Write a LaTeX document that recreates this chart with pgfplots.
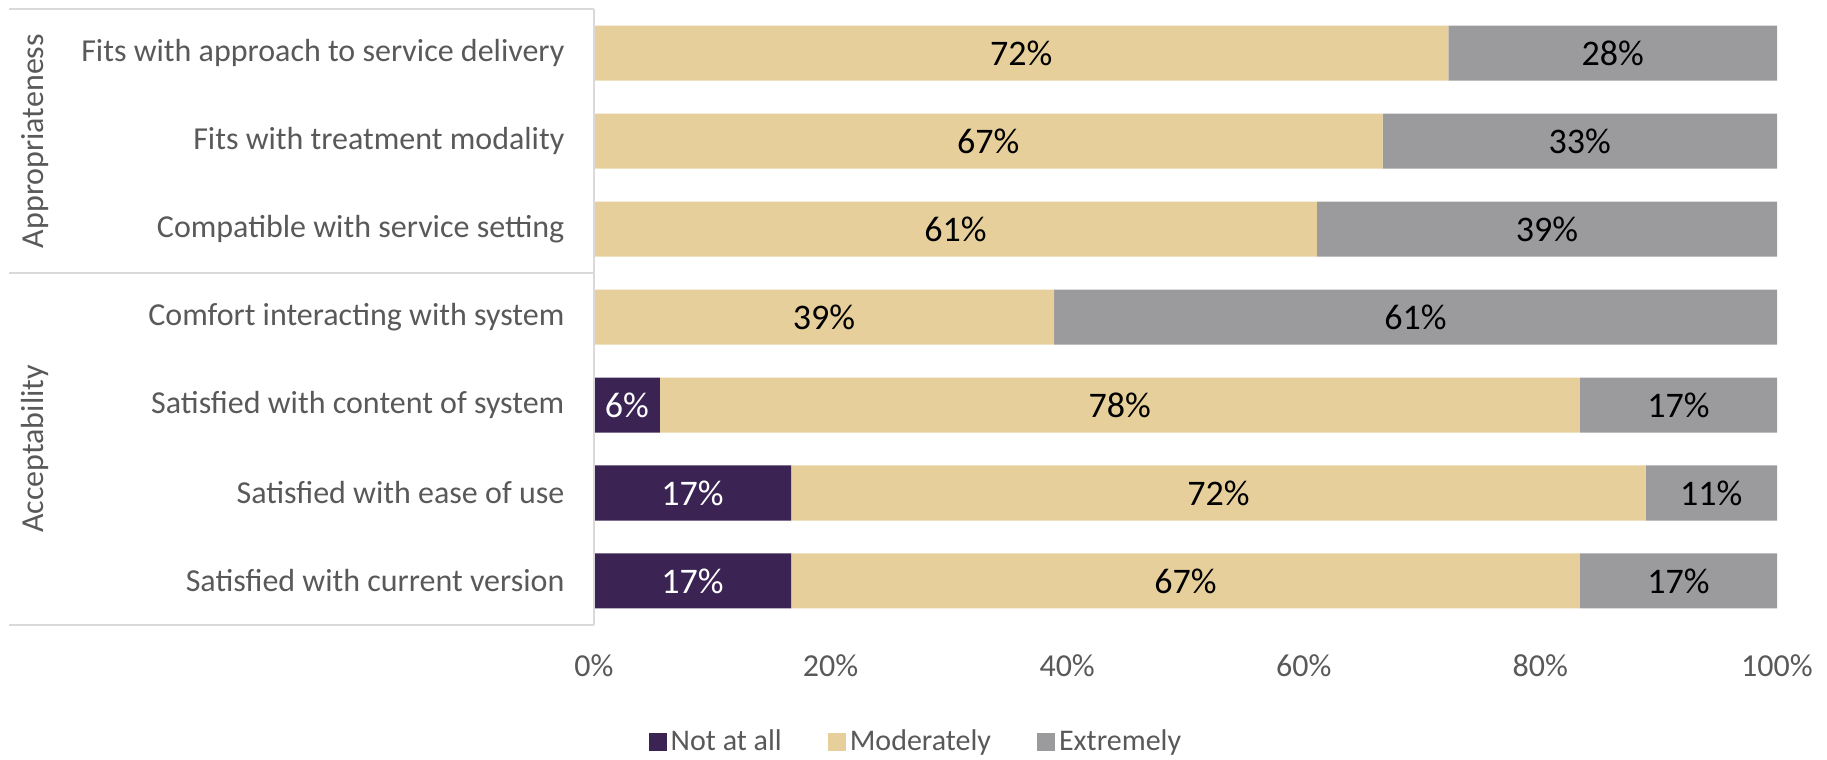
\documentclass[border=0pt]{standalone}
\usepackage{pgfplots}
\pgfplotsset{compat=1.18}
\usepackage{pgfplotstable}
\usepackage{fontspec}
\setmainfont{Carlito}
\definecolor{cNot}{HTML}{3B2354}
\definecolor{cMod}{HTML}{E6CF9B}
\definecolor{cExt}{HTML}{9B9B9D}
\definecolor{txt}{HTML}{595959}
\definecolor{gridc}{HTML}{D9D9D9}
% shares of respondents (%), one row per item
\pgfplotstableread{
idx n m e
0 0 72.22 27.78
1 0 66.67 33.33
2 0 61.11 38.89
3 0 38.89 61.11
4 5.56 77.78 16.67
5 16.67 72.22 11.11
6 16.67 66.67 16.67
}\data
% label centres and label values for each segment
\pgfplotstableread{
idx cx lab
4 2.78 6
5 8.33 17
6 8.33 17
}\labN
\pgfplotstableread{
idx cx lab
0 36.11 72
1 33.33 67
2 30.56 61
3 19.44 39
4 44.45 78
5 52.78 72
6 50.00 67
}\labM
\pgfplotstableread{
idx cx lab
0 86.11 28
1 83.33 33
2 80.56 39
3 69.44 61
4 91.67 17
5 94.44 11
6 91.67 17
}\labE
\pgfplotsset{
  common/.style={
    at={(297pt,-4.5pt)}, anchor=north west,
    scale only axis, width=591.5pt, height=308pt,
    xmin=0, xmax=100, ymin=-0.5, ymax=6.5, y dir=reverse,
    clip=false,
  }
}
\begin{document}
\begin{tikzpicture}
\useasboundingbox (0,0) rectangle (913.5pt,-380pt);
\begin{axis}[
  common,
  xbar stacked, bar width=27.5pt,
  axis line style={draw=none},
  major tick length=0pt,
  xtick={0,20,40,60,80,100},
  xticklabels={0\%,20\%,40\%,60\%,80\%,100\%},
  ytick={0,...,6},
  yticklabels={Fits with approach to service delivery,Fits with treatment modality,Compatible with service setting,Comfort interacting with system,Satisfied with content of system,Satisfied with ease of use,Satisfied with current version},
  xticklabel style={font=\fontsize{16}{19}\selectfont, text=txt, yshift=-11.5pt},
  yticklabel style={font=\fontsize{16}{19}\selectfont, text=txt, xshift=-11.3pt},
  legend style={at={(axis description cs:0.273,-0.19)}, anchor=center, draw=none,
    font=\fontsize{15}{18}\selectfont, text=txt,
    /tikz/every even column/.append style={column sep=21pt}},
  legend cell align=left,
  legend columns=3,
  legend image code/.code={\fill[#1] (1pt,-4.5pt) rectangle (10pt,4.5pt);},
]
\draw[gridc, line width=1pt] (axis cs:0,-0.5) -- ++(-292.5pt,0pt);
\draw[gridc, line width=1pt] (axis cs:0,2.5) -- ++(-292.5pt,0pt);
\draw[gridc, line width=1pt] (axis cs:0,6.5) -- ++(-292.5pt,0pt);
\draw[gridc, line width=1pt] (axis cs:0,-0.5) -- (axis cs:0,6.5);
\addplot[fill=cNot, draw=none] table[x=n,y=idx]{\data};
\addplot[fill=cMod, draw=none] table[x=m,y=idx]{\data};
\addplot[fill=cExt, draw=none] table[x=e,y=idx]{\data};
\legend{Not at all,Moderately,Extremely}
\path (axis cs:0,1) ++(-279.5pt,0pt) node[rotate=90, text=txt, font=\fontsize{16}{19}\selectfont] {Appropriateness};
\path (axis cs:0,4.5) ++(-279.5pt,0pt) node[rotate=90, text=txt, font=\fontsize{16}{19}\selectfont] {Acceptability};
\end{axis}
\begin{axis}[
  common, hide axis,
  nodes near coords={\pgfplotspointmeta\%},
  point meta=explicit symbolic,
  every node near coord/.append style={font=\fontsize{18}{21}\selectfont, anchor=center},
]
\addplot[draw=none, mark=none, every node near coord/.append style={text=white, anchor=center}] table[x=cx,y=idx,meta=lab]{\labN};
\addplot[draw=none, mark=none, every node near coord/.append style={text=black, anchor=center}] table[x=cx,y=idx,meta=lab]{\labM};
\addplot[draw=none, mark=none, every node near coord/.append style={text=black, anchor=center}] table[x=cx,y=idx,meta=lab]{\labE};
\end{axis}
\end{tikzpicture}
\end{document}
